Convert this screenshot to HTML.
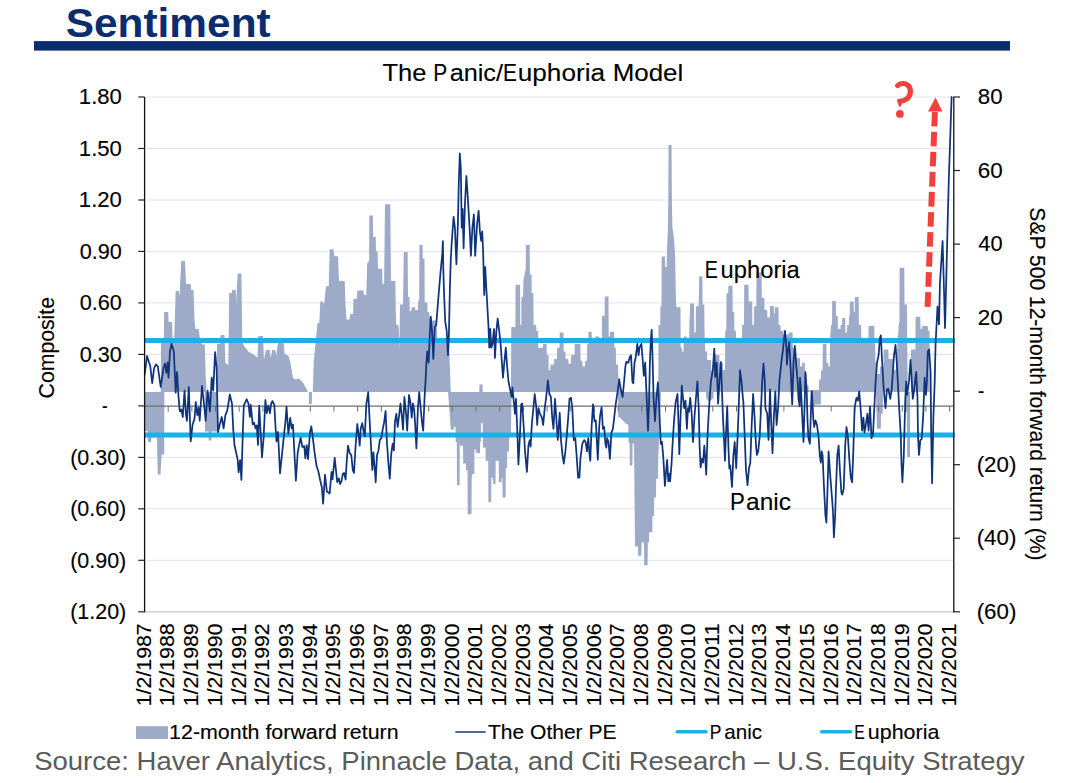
<!DOCTYPE html>
<html><head><meta charset="utf-8"><title>Sentiment</title>
<style>html,body{margin:0;padding:0;background:#fff;}body{width:1068px;height:783px;overflow:hidden;font-family:"Liberation Sans",sans-serif;}svg{display:block;}text{font-family:"Liberation Sans",sans-serif;}.ct text{stroke:#000;stroke-width:0.28px;}</style>
</head><body>
<svg width="1068" height="783" viewBox="0 0 1068 783">
<rect width="1068" height="783" fill="#fff"/>
<text transform="translate(65.73,36.50) scale(1.0469,1)" font-size="40.5" font-weight="bold" fill="#0b2d6f" style="font-family:'Liberation Sans'">Sentiment</text>
<rect x="34" y="41.1" width="976" height="9.5" fill="#0b2d6f"/>
<text transform="translate(382.39,80.90) scale(1.0425,1)" font-size="24.5" fill="#000" stroke="#000" stroke-width="0.14" style="font-family:'Liberation Sans'">The</text>
<text transform="translate(433.13,80.90) scale(0.8545,1)" font-size="24.5" fill="#000" stroke="#000" stroke-width="0.14" style="font-family:'Liberation Sans'">P</text>
<text transform="translate(449.63,80.90) scale(1.0300,1)" font-size="24.5" fill="#000" stroke="#000" stroke-width="0.14" style="font-family:'Liberation Sans'">anic/</text>
<text transform="translate(502.93,80.90) scale(0.8538,1)" font-size="24.5" fill="#000" stroke="#000" stroke-width="0.14" style="font-family:'Liberation Sans'">E</text>
<text transform="translate(517.76,80.90) scale(1.0681,1)" font-size="24.5" fill="#000" stroke="#000" stroke-width="0.14" style="font-family:'Liberation Sans'">uphoria</text>
<text transform="translate(612.63,80.90) scale(1.0584,1)" font-size="24.5" fill="#000" stroke="#000" stroke-width="0.14" style="font-family:'Liberation Sans'">Model</text>
<line x1="146" x2="953.1" y1="97.0" y2="97.0" stroke="#e0e1f0" stroke-width="1"/>
<line x1="146" x2="953.1" y1="148.5" y2="148.5" stroke="#e0e1f0" stroke-width="1"/>
<line x1="146" x2="953.1" y1="200.0" y2="200.0" stroke="#e0e1f0" stroke-width="1"/>
<line x1="146" x2="953.1" y1="251.4" y2="251.4" stroke="#e0e1f0" stroke-width="1"/>
<line x1="146" x2="953.1" y1="302.9" y2="302.9" stroke="#e0e1f0" stroke-width="1"/>
<line x1="146" x2="953.1" y1="354.4" y2="354.4" stroke="#e0e1f0" stroke-width="1"/>
<line x1="146" x2="953.1" y1="457.4" y2="457.4" stroke="#e0e1f0" stroke-width="1"/>
<line x1="146" x2="953.1" y1="508.8" y2="508.8" stroke="#e0e1f0" stroke-width="1"/>
<line x1="146" x2="953.1" y1="560.3" y2="560.3" stroke="#e0e1f0" stroke-width="1"/>
<line x1="146" x2="953.1" y1="611.8" y2="611.8" stroke="#e0e1f0" stroke-width="1"/>
<path d="M160.7,392.0 L160.7,392.0 L161.0,343.0 L163.9,343.0 L164.1,312.0 L168.2,312.0 L168.6,322.0 L172.0,322.0 L172.6,338.0 L174.2,338.0 L175.7,291.0 L178.5,291.0 L179.5,296.0 L181.3,261.0 L185.0,261.0 L186.0,284.0 L190.7,284.0 L191.2,290.0 L193.5,290.0 L194.5,320.0 L195.4,329.0 L198.6,329.0 L200.0,339.0 L202.0,344.5 L204.8,344.5 L205.7,377.0 L206.7,392.0 L216.6,392.0 L217.0,344.0 L219.8,344.0 L220.7,335.0 L224.5,335.0 L225.4,363.0 L228.3,365.0 L229.2,293.0 L232.0,293.0 L232.2,290.0 L235.8,290.0 L236.2,303.0 L237.7,273.6 L241.4,273.6 L242.3,342.7 L245.2,347.4 L248.9,352.0 L252.7,354.0 L257.4,357.7 L258.3,336.0 L263.0,336.0 L264.0,359.6 L265.8,350.0 L269.6,350.0 L270.5,357.7 L272.4,350.0 L275.2,350.0 L276.2,355.8 L278.0,342.7 L280.8,339.0 L283.7,342.7 L284.6,354.0 L288.4,355.8 L290.2,361.5 L292.1,372.7 L293.0,378.0 L296.0,379.4 L298.7,378.5 L303.4,383.0 L305.3,387.0 L308.0,392.0 L312.8,392.0 L313.7,361.5 L315.6,342.7 L317.5,323.0 L319.3,323.0 L320.3,301.4 L323.0,301.4 L324.0,305.0 L326.0,286.3 L328.7,286.3 L329.7,249.3 L333.4,249.3 L334.4,256.3 L338.0,256.3 L339.0,281.0 L344.7,281.0 L345.5,305.0 L346.6,319.5 L349.4,319.5 L350.3,314.0 L353.0,314.0 L353.5,298.8 L357.0,298.8 L357.3,290.4 L363.5,290.4 L364.0,295.0 L366.3,295.0 L367.2,263.0 L369.1,261.5 L369.3,215.4 L372.9,215.4 L373.1,237.0 L375.7,237.0 L376.0,251.0 L377.6,251.0 L378.0,268.8 L382.3,268.8 L382.5,283.8 L384.1,283.8 L385.0,204.2 L390.3,204.2 L390.5,226.7 L391.0,281.0 L395.4,281.0 L395.8,312.0 L396.3,325.0 L398.2,325.0 L398.8,330.0 L399.2,350.0 L399.6,330.0 L400.0,304.5 L403.0,304.5 L403.8,252.0 L407.6,252.0 L408.0,297.0 L409.5,297.0 L409.7,311.0 L411.4,311.0 L411.6,307.3 L415.1,307.3 L415.3,310.0 L417.9,310.0 L418.2,300.7 L419.2,300.0 L419.4,245.0 L422.6,245.0 L422.8,258.6 L424.5,258.6 L424.7,302.6 L427.3,302.6 L427.5,312.0 L429.2,312.0 L429.4,317.6 L432.0,317.6 L432.2,320.4 L436.7,320.4 L437.2,340.0 L437.6,343.0 L445.2,343.0 L449.0,344.0 L449.6,360.0 L450.8,392.0 L479.3,392.0 L479.5,384.5 L482.5,384.5 L482.7,392.0 L511.0,392.0 L511.3,327.0 L515.4,327.0 L515.6,284.7 L520.1,284.7 L520.2,325.0 L521.3,325.0 L521.4,297.0 L523.0,297.0 L523.5,280.0 L525.7,268.8 L525.9,245.0 L529.7,245.0 L529.9,274.4 L531.5,274.4 L531.7,293.0 L533.4,293.0 L533.6,325.0 L536.2,325.0 L536.4,331.0 L538.0,331.0 L538.3,347.7 L540.0,347.7 L542.8,347.7 L543.0,344.0 L546.6,344.0 L546.8,355.0 L548.5,355.0 L548.7,370.2 L550.3,370.2 L550.5,364.6 L554.0,364.6 L554.3,359.0 L557.0,359.0 L557.2,347.7 L559.5,347.7 L559.7,332.6 L563.5,332.6 L563.7,351.4 L565.4,351.4 L565.6,359.0 L568.2,359.0 L568.4,363.6 L571.0,363.6 L571.2,355.0 L574.5,355.0 L574.7,344.0 L580.4,344.0 L580.6,360.8 L582.3,360.8 L582.5,366.4 L585.0,366.4 L585.3,360.8 L587.0,360.8 L587.2,344.0 L588.3,344.0 L588.5,331.7 L591.6,331.7 L591.8,338.3 L595.2,338.3 L595.4,336.4 L599.2,336.4 L599.4,338.3 L601.8,338.3 L602.0,315.7 L604.6,315.7 L604.8,296.6 L608.5,296.6 L608.7,336.4 L609.9,336.4 L610.1,331.7 L614.2,331.7 L614.4,347.7 L615.8,347.7 L616.0,364.6 L618.0,364.6 L618.3,377.7 L619.8,377.7 L620.0,390.0 L622.6,392.0 L658.3,392.0 L658.5,325.0 L660.2,325.0 L660.4,306.3 L661.5,306.3 L661.7,256.6 L664.9,256.6 L665.1,267.0 L666.6,267.0 L666.8,257.0 L667.3,242.7 L667.9,227.7 L668.3,201.0 L668.6,145.0 L671.5,145.0 L671.9,201.4 L672.4,227.7 L673.3,233.0 L674.3,242.7 L675.2,257.7 L675.6,283.8 L676.1,306.3 L677.0,307.3 L680.5,307.3 L680.7,347.7 L681.8,347.7 L682.0,351.4 L683.5,351.4 L683.7,336.4 L686.5,336.4 L686.7,342.0 L689.1,342.0 L689.5,321.4 L690.2,303.5 L694.0,303.5 L694.2,332.6 L695.7,332.6 L695.9,306.3 L698.7,306.3 L699.2,276.3 L702.4,276.3 L702.6,304.5 L704.3,304.5 L704.5,328.9 L705.3,351.4 L707.0,351.4 L707.2,360.0 L711.0,360.0 L711.2,370.2 L713.5,370.2 L713.7,355.0 L719.3,355.0 L719.5,362.7 L722.9,362.7 L723.1,370.0 L725.0,370.0 L725.2,330.8 L726.3,330.8 L726.5,293.2 L728.2,293.2 L728.4,285.7 L732.5,285.7 L732.7,312.0 L734.2,312.0 L734.4,330.8 L736.0,330.8 L736.2,340.0 L741.9,340.0 L741.9,340.0 L742.1,325.0 L744.0,325.0 L744.2,284.7 L748.5,284.7 L748.7,301.6 L752.2,301.6 L752.4,325.0 L754.0,325.0 L754.2,306.3 L756.3,306.3 L756.5,272.5 L761.6,272.5 L761.8,298.0 L764.4,298.0 L764.6,310.0 L767.2,310.0 L767.4,317.6 L769.8,317.6 L770.0,306.0 L773.8,306.0 L774.0,313.8 L774.7,313.8 L774.9,307.3 L778.5,307.3 L778.7,325.0 L780.4,325.0 L780.6,330.8 L783.2,330.8 L783.4,334.5 L788.6,334.5 L788.8,332.6 L792.6,332.6 L792.8,347.7 L796.3,347.7 L796.5,358.0 L800.0,358.0 L800.2,366.4 L802.0,366.4 L802.2,362.7 L804.8,362.7 L805.0,374.0 L806.7,374.0 L806.9,385.2 L808.5,385.2 L808.7,390.0 L818.9,390.0 L819.1,379.6 L820.8,379.6 L821.0,370.2 L822.6,370.2 L822.8,344.0 L826.4,344.0 L826.6,362.7 L828.3,362.7 L828.5,366.4 L829.8,366.4 L830.0,340.0 L831.0,325.0 L832.0,325.0 L832.2,301.0 L835.8,301.0 L836.0,315.7 L837.7,315.7 L837.9,328.9 L840.5,328.9 L840.7,325.0 L842.1,325.0 L842.3,318.0 L845.2,318.0 L845.4,332.6 L847.0,332.6 L847.2,325.0 L848.9,325.0 L849.1,315.7 L849.7,315.7 L849.9,301.6 L853.6,301.6 L853.8,312.0 L854.7,312.0 L854.9,297.0 L858.7,297.0 L858.9,325.0 L861.1,325.0 L861.3,338.3 L868.4,338.3 L868.6,326.0 L874.3,326.0 L874.5,344.0 L875.2,344.0 L875.4,362.7 L877.0,362.7 L877.2,374.0 L879.9,374.0 L880.1,366.4 L883.5,366.4 L883.7,349.5 L888.4,349.5 L888.6,359.0 L893.0,359.0 L893.2,370.0 L895.9,370.0 L896.1,362.7 L897.5,344.0 L898.7,325.0 L899.4,321.4 L899.6,267.8 L904.3,267.8 L904.5,304.5 L907.0,304.5 L907.2,334.5 L907.8,392.0 L910.8,392.0 L911.0,349.5 L915.4,349.5 L915.6,316.7 L920.3,316.7 L920.5,328.9 L922.0,328.9 L922.2,326.0 L927.8,326.0 L928.0,330.8 L929.5,330.8 L929.7,392.0 L929.7,392.0 Z" fill="#9dabc9"/>
<path d="M144.7,392.0 L144.7,392.0 L144.7,431.0 L147.5,431.0 L148.0,442.0 L151.0,442.0 L151.5,437.5 L157.0,437.5 L157.3,455.0 L157.8,474.5 L160.5,474.5 L161.6,454.5 L164.2,454.5 L164.4,392.0 L204.8,392.0 L205.0,431.5 L208.5,431.5 L208.7,440.5 L211.4,440.5 L211.6,431.5 L217.8,431.5 L218.0,392.0 L308.8,392.0 L309.0,404.0 L311.8,404.0 L312.0,392.0 L448.0,392.0 L448.6,399.0 L449.9,417.6 L450.8,429.8 L453.6,429.8 L453.8,427.0 L455.5,427.0 L455.7,442.0 L456.8,442.0 L457.0,485.2 L459.6,485.2 L459.8,442.0 L460.2,445.7 L463.0,445.7 L463.2,463.6 L465.8,463.6 L466.0,470.0 L467.5,470.0 L467.7,514.3 L471.5,514.3 L471.7,477.7 L472.4,474.0 L474.3,474.0 L474.5,449.5 L476.0,449.5 L476.2,453.0 L480.0,453.0 L480.2,442.0 L480.8,442.0 L481.0,423.0 L482.7,423.0 L482.9,447.6 L485.5,447.6 L485.7,460.8 L488.2,460.8 L488.4,502.0 L491.2,502.0 L491.4,477.7 L493.0,477.7 L493.2,484.0 L495.5,484.0 L495.7,460.8 L498.7,460.8 L498.9,482.3 L501.5,482.3 L501.7,477.7 L502.4,477.7 L502.6,497.4 L505.6,497.4 L505.8,468.3 L507.1,468.3 L507.3,451.4 L509.0,451.4 L509.2,436.3 L510.9,436.3 L511.5,392.0 L618.0,392.0 L618.2,417.6 L620.0,417.6 L625.4,423.2 L628.3,425.0 L628.5,442.0 L629.6,443.8 L629.8,465.4 L632.4,465.4 L632.6,443.8 L634.0,443.8 L634.5,497.6 L635.0,546.4 L638.0,546.4 L638.2,555.8 L641.4,555.8 L641.6,542.6 L644.0,542.6 L644.2,565.2 L647.6,565.2 L647.8,542.6 L649.0,542.6 L649.2,532.3 L652.3,532.3 L652.5,516.0 L654.0,516.0 L654.2,497.6 L656.0,497.6 L656.2,478.8 L658.0,478.8 L658.3,455.0 L659.3,436.3 L660.2,417.6 L661.0,392.0 L706.0,392.0 L706.2,398.0 L709.0,402.0 L713.4,398.0 L713.6,392.0 L810.4,392.0 L810.6,406.0 L814.2,406.0 L815.0,404.4 L820.8,404.4 L821.0,392.0 L876.0,392.0 L876.2,400.0 L877.0,428.8 L880.8,428.8 L881.0,413.8 L882.7,413.8 L882.9,392.0 L905.0,392.0 L905.2,412.0 L907.0,412.0 L907.2,457.0 L910.0,457.0 L910.2,392.0 L910.2,392.0 Z" fill="#9dabc9"/>
<line x1="144.6" x2="953.1" y1="406.1" y2="406.1" stroke="#6e6e6e" stroke-width="1.3"/>
<line x1="168.2" x2="168.2" y1="406.1" y2="411.6" stroke="#6e6e6e" stroke-width="1"/>
<line x1="191.9" x2="191.9" y1="406.1" y2="411.6" stroke="#6e6e6e" stroke-width="1"/>
<line x1="215.5" x2="215.5" y1="406.1" y2="411.6" stroke="#6e6e6e" stroke-width="1"/>
<line x1="239.2" x2="239.2" y1="406.1" y2="411.6" stroke="#6e6e6e" stroke-width="1"/>
<line x1="262.9" x2="262.9" y1="406.1" y2="411.6" stroke="#6e6e6e" stroke-width="1"/>
<line x1="286.6" x2="286.6" y1="406.1" y2="411.6" stroke="#6e6e6e" stroke-width="1"/>
<line x1="310.3" x2="310.3" y1="406.1" y2="411.6" stroke="#6e6e6e" stroke-width="1"/>
<line x1="333.9" x2="333.9" y1="406.1" y2="411.6" stroke="#6e6e6e" stroke-width="1"/>
<line x1="357.6" x2="357.6" y1="406.1" y2="411.6" stroke="#6e6e6e" stroke-width="1"/>
<line x1="381.3" x2="381.3" y1="406.1" y2="411.6" stroke="#6e6e6e" stroke-width="1"/>
<line x1="405.0" x2="405.0" y1="406.1" y2="411.6" stroke="#6e6e6e" stroke-width="1"/>
<line x1="428.7" x2="428.7" y1="406.1" y2="411.6" stroke="#6e6e6e" stroke-width="1"/>
<line x1="452.3" x2="452.3" y1="406.1" y2="411.6" stroke="#6e6e6e" stroke-width="1"/>
<line x1="476.0" x2="476.0" y1="406.1" y2="411.6" stroke="#6e6e6e" stroke-width="1"/>
<line x1="499.7" x2="499.7" y1="406.1" y2="411.6" stroke="#6e6e6e" stroke-width="1"/>
<line x1="523.4" x2="523.4" y1="406.1" y2="411.6" stroke="#6e6e6e" stroke-width="1"/>
<line x1="547.1" x2="547.1" y1="406.1" y2="411.6" stroke="#6e6e6e" stroke-width="1"/>
<line x1="570.7" x2="570.7" y1="406.1" y2="411.6" stroke="#6e6e6e" stroke-width="1"/>
<line x1="594.4" x2="594.4" y1="406.1" y2="411.6" stroke="#6e6e6e" stroke-width="1"/>
<line x1="618.1" x2="618.1" y1="406.1" y2="411.6" stroke="#6e6e6e" stroke-width="1"/>
<line x1="641.8" x2="641.8" y1="406.1" y2="411.6" stroke="#6e6e6e" stroke-width="1"/>
<line x1="665.5" x2="665.5" y1="406.1" y2="411.6" stroke="#6e6e6e" stroke-width="1"/>
<line x1="689.1" x2="689.1" y1="406.1" y2="411.6" stroke="#6e6e6e" stroke-width="1"/>
<line x1="712.8" x2="712.8" y1="406.1" y2="411.6" stroke="#6e6e6e" stroke-width="1"/>
<line x1="736.5" x2="736.5" y1="406.1" y2="411.6" stroke="#6e6e6e" stroke-width="1"/>
<line x1="760.2" x2="760.2" y1="406.1" y2="411.6" stroke="#6e6e6e" stroke-width="1"/>
<line x1="783.9" x2="783.9" y1="406.1" y2="411.6" stroke="#6e6e6e" stroke-width="1"/>
<line x1="807.5" x2="807.5" y1="406.1" y2="411.6" stroke="#6e6e6e" stroke-width="1"/>
<line x1="831.2" x2="831.2" y1="406.1" y2="411.6" stroke="#6e6e6e" stroke-width="1"/>
<line x1="854.9" x2="854.9" y1="406.1" y2="411.6" stroke="#6e6e6e" stroke-width="1"/>
<line x1="878.6" x2="878.6" y1="406.1" y2="411.6" stroke="#6e6e6e" stroke-width="1"/>
<line x1="902.3" x2="902.3" y1="406.1" y2="411.6" stroke="#6e6e6e" stroke-width="1"/>
<line x1="925.9" x2="925.9" y1="406.1" y2="411.6" stroke="#6e6e6e" stroke-width="1"/>
<line x1="949.6" x2="949.6" y1="406.1" y2="411.6" stroke="#6e6e6e" stroke-width="1"/>
<line x1="144.6" x2="953.1" y1="611.9" y2="611.9" stroke="#d2d2d2" stroke-width="1.1"/>
<line x1="144.6" x2="954.8" y1="340.6" y2="340.6" stroke="#1bb1e7" stroke-width="5"/>
<line x1="144.6" x2="954.8" y1="434.9" y2="434.9" stroke="#1bb1e7" stroke-width="5"/>
<polyline points="144.7,374.7 147.0,356.0 148.5,360.7 150.3,366.3 152.2,383.2 154.1,368.2 156.0,364.4 157.8,366.3 160.7,387.0 163.5,368.2 165.0,363.5 166.3,372.9 167.6,362.5 168.5,377.6 170.0,351.3 171.5,343.8 172.9,348.5 173.8,351.3 175.7,392.6 177.0,372.0 178.5,396.3 179.8,411.4 181.3,409.5 182.8,417.0 184.5,390.7 186.0,415.1 187.0,420.8 188.8,387.0 190.7,441.4 192.6,424.5 194.5,418.9 195.8,402.0 197.3,415.1 198.6,407.6 199.7,420.8 202.0,386.0 203.8,402.0 205.7,420.8 207.6,390.7 209.9,411.4 211.7,377.6 213.2,390.7 215.1,352.2 216.6,368.2 218.0,432.0 219.8,424.5 221.7,417.0 223.6,428.3 225.4,415.1 227.3,410.4 229.8,394.5 232.0,403.8 233.3,430.1 234.5,445.2 236.2,452.7 237.7,460.2 238.6,472.4 240.1,460.2 241.4,480.0 242.9,430.1 243.8,405.7 246.7,399.2 248.5,403.8 249.9,417.0 250.8,404.8 252.7,424.5 254.0,422.6 255.5,428.3 256.8,425.4 258.0,445.0 259.2,405.7 260.6,432.0 262.0,457.4 263.6,437.7 265.4,400.0 266.8,413.2 268.3,405.7 270.0,413.2 271.1,403.8 272.4,401.0 274.3,404.8 275.6,428.3 276.5,441.4 278.0,432.0 280.0,473.3 281.8,456.4 283.7,437.7 285.5,420.8 286.5,406.7 288.4,433.9 290.2,417.9 291.7,428.3 293.0,424.5 294.4,452.7 295.9,480.8 297.7,452.7 300.6,437.7 302.4,447.0 304.3,446.1 305.3,458.3 306.8,445.2 308.0,459.2 310.0,432.0 311.3,426.4 312.8,437.7 314.6,452.7 316.5,465.8 318.4,471.5 320.3,480.8 321.8,487.0 323.1,503.8 325.0,474.7 326.9,491.6 329.7,493.4 331.5,471.8 332.5,479.3 334.7,457.8 337.2,482.2 339.0,478.4 340.0,484.2 341.5,481.4 342.8,473.9 344.1,473.0 345.6,479.5 346.9,458.9 348.0,445.7 349.8,453.2 351.3,455.1 352.8,470.1 354.0,473.0 355.6,445.7 357.3,424.0 358.8,436.3 359.7,445.7 360.7,428.8 362.2,423.2 363.5,430.7 364.8,436.3 366.3,404.4 368.2,392.2 369.5,417.6 371.0,445.7 372.3,470.0 373.4,452.3 374.7,468.3 375.7,482.3 377.0,455.1 378.5,450.4 379.8,440.1 381.3,438.2 382.8,428.8 384.1,422.3 385.6,411.0 386.9,442.0 388.5,464.5 389.8,478.6 391.1,455.1 392.6,443.8 393.9,450.4 395.0,421.3 396.3,413.8 397.7,427.0 399.2,414.7 400.5,403.5 402.0,417.6 403.0,429.8 404.4,397.0 406.1,413.8 407.2,430.7 409.0,395.0 410.4,402.5 411.7,417.6 412.9,403.5 414.2,410.0 415.1,423.2 416.4,448.5 417.9,408.2 419.2,392.2 420.8,410.0 422.1,423.2 423.2,430.7 424.5,398.8 425.4,383.8 426.4,362.7 427.3,351.4 428.6,362.7 429.8,334.5 430.7,316.7 432.0,330.8 433.3,359.0 434.8,327.0 436.2,325.0 437.7,306.3 438.6,295.0 440.5,272.5 442.3,253.8 442.9,241.2 443.3,268.8 444.2,297.0 445.2,321.4 446.7,330.8 448.0,355.2 448.9,334.5 449.9,287.6 450.8,259.4 451.7,242.7 453.6,216.8 454.9,227.7 456.4,264.3 457.9,223.9 458.7,186.3 459.8,153.5 460.8,167.6 461.7,227.7 462.6,208.9 463.6,248.3 464.9,205.1 466.4,176.0 467.7,195.7 468.6,210.8 470.0,235.2 470.9,255.8 472.4,227.7 473.9,214.5 475.2,255.8 477.1,223.9 478.6,210.8 479.9,231.4 481.2,240.8 482.2,231.4 483.1,250.2 484.2,295.0 485.2,267.0 486.5,291.3 488.4,325.0 489.3,347.7 490.2,328.9 491.2,347.7 492.5,343.9 494.0,329.0 495.0,358.0 496.2,332.6 497.7,318.5 499.2,330.8 500.6,343.9 501.9,362.7 503.0,377.7 504.3,362.7 505.8,347.7 507.1,366.4 508.5,381.5 510.0,389.0 511.8,397.0 512.4,387.5 513.7,400.7 515.0,413.8 516.0,398.8 517.5,436.3 518.4,464.5 519.9,436.3 521.2,404.4 522.2,403.5 523.7,427.0 525.0,451.4 526.9,472.0 528.4,445.7 529.7,440.1 530.6,446.7 531.9,423.2 533.4,408.2 534.7,394.0 536.2,406.3 537.2,425.0 538.5,408.2 540.0,413.8 541.9,417.6 543.2,425.0 544.7,408.2 546.0,398.8 547.9,380.5 549.4,394.0 550.9,397.0 552.2,417.6 553.5,428.8 555.0,398.8 556.5,421.3 557.8,440.0 559.7,412.9 561.0,440.1 562.5,455.1 563.8,463.6 565.4,451.4 566.7,436.3 568.2,417.6 569.5,398.8 571.0,397.8 572.3,408.2 573.8,440.1 575.3,438.2 576.6,455.1 578.1,477.7 579.4,477.7 580.4,458.9 582.3,443.8 584.1,440.1 585.6,442.0 586.9,451.4 588.3,438.2 589.4,453.2 590.3,460.8 591.6,427.0 593.0,404.4 594.5,421.3 595.8,420.4 596.9,442.0 597.8,459.8 599.2,427.0 600.1,415.7 601.6,407.2 602.9,428.8 604.2,427.0 605.4,443.8 606.3,447.6 607.2,438.2 608.5,442.0 609.9,458.9 611.4,432.6 612.9,428.8 614.2,417.6 615.7,404.4 617.4,393.1 619.2,379.6 621.1,390.8 622.6,397.0 624.1,381.5 625.4,366.4 626.4,361.7 628.3,362.7 629.8,357.0 631.0,355.2 632.4,381.5 633.3,383.3 634.5,362.7 635.8,357.0 637.3,343.9 638.6,355.2 639.5,347.7 641.4,343.9 642.9,362.7 643.8,375.8 645.2,362.7 646.7,398.8 648.0,430.7 648.9,408.2 649.9,362.7 650.8,340.1 651.7,329.8 652.7,362.7 653.6,398.8 655.0,421.3 656.4,398.8 657.9,382.4 659.2,408.2 660.2,430.7 660.8,443.8 662.0,442.0 663.4,458.9 664.9,486.0 666.2,470.1 667.1,459.8 668.3,481.4 669.2,473.9 670.1,481.4 671.5,464.5 673.0,436.3 674.3,417.6 675.6,402.5 677.5,394.0 678.6,427.0 679.3,454.2 680.5,417.6 681.8,385.6 683.1,398.8 684.2,408.2 685.5,400.7 686.9,428.8 688.0,408.2 688.9,411.9 690.2,397.8 691.7,413.8 693.0,442.0 694.4,417.6 695.9,398.8 697.4,381.5 698.7,408.2 699.6,445.7 700.6,467.3 701.9,458.9 703.0,462.6 704.3,445.7 705.3,458.9 706.2,474.8 707.5,436.3 709.0,408.2 710.9,381.5 712.8,370.2 714.3,348.6 715.2,377.0 716.7,362.5 718.1,403.7 719.5,380.0 720.9,362.0 722.8,413.0 725.0,460.8 725.9,436.3 727.2,406.3 728.4,445.7 729.3,468.3 730.2,465.4 732.0,487.0 733.4,455.1 734.7,442.0 736.2,468.3 737.6,436.3 738.7,408.2 740.0,370.2 741.5,381.5 742.8,397.0 743.4,402.5 744.7,436.3 746.0,470.1 747.5,485.2 749.0,468.3 750.3,462.6 751.6,427.0 753.1,394.0 754.6,417.6 756.0,445.7 756.9,455.0 758.2,451.4 759.7,436.3 761.0,408.2 762.2,381.5 763.5,363.6 764.8,381.5 765.4,408.2 767.2,413.8 768.5,440.0 770.0,389.4 771.4,427.0 772.5,453.2 773.8,417.6 775.3,391.3 776.6,425.0 778.1,408.2 779.4,381.5 781.3,362.7 782.8,351.4 784.1,338.3 785.0,330.8 786.4,347.7 786.9,364.6 787.9,351.4 789.2,342.0 790.7,370.2 792.2,404.4 793.5,362.7 794.8,345.8 796.3,366.4 797.7,381.5 798.5,398.8 799.7,406.3 800.0,377.7 801.0,389.4 802.3,417.6 803.5,442.0 804.8,398.8 805.4,372.0 806.7,391.3 807.6,423.2 808.5,438.2 809.9,443.8 811.0,408.2 811.9,391.3 813.2,417.6 814.2,427.0 815.5,420.4 817.0,425.0 818.5,436.3 819.8,455.1 820.8,462.6 821.7,451.4 822.6,455.1 823.9,485.2 825.4,515.2 826.4,522.7 827.3,496.4 828.6,451.4 830.1,473.9 831.6,492.7 833.0,511.5 833.9,537.3 835.2,515.0 835.8,492.7 837.3,455.1 838.6,445.7 839.9,470.1 841.4,492.7 842.3,494.6 843.7,488.9 845.2,445.7 846.5,427.0 848.0,438.2 849.3,458.9 850.8,477.7 852.1,482.3 853.2,455.1 854.6,408.2 856.4,397.8 857.9,400.7 859.2,391.3 860.6,408.2 862.1,430.7 863.4,417.6 864.5,432.6 865.8,425.0 867.3,413.8 868.6,430.7 870.0,406.3 871.5,438.2 873.0,434.5 874.3,408.2 875.6,381.5 877.0,362.7 878.6,355.2 879.9,338.3 880.8,335.4 882.2,362.7 883.7,389.0 885.5,408.2 886.9,389.4 888.4,389.0 890.2,398.8 891.7,389.4 893.0,370.2 894.0,355.2 895.5,344.8 896.8,362.7 897.8,381.5 899.2,408.2 900.8,436.3 901.5,464.5 902.4,482.3 903.8,455.1 905.3,398.8 906.2,381.5 907.1,395.0 909.0,381.5 910.5,359.9 911.8,381.5 912.8,398.8 914.3,389.0 915.0,381.5 916.2,372.0 917.5,398.8 918.0,436.3 919.0,455.0 920.3,440.1 921.6,439.2 923.1,417.6 924.6,377.7 925.9,395.0 926.9,381.5 927.8,351.4 929.1,349.5 930.6,372.0 931.2,436.3 932.1,483.3 933.4,417.6 934.7,381.5 935.6,343.0 936.5,326.0 937.5,306.6 939.0,324.4 940.0,282.0 942.6,241.0 944.0,290.0 945.0,328.0 946.0,290.0 947.8,217.0 948.8,180.0 951.6,97.0" fill="none" stroke="#10347c" stroke-width="1.75" stroke-linejoin="round" stroke-linecap="round"/>
<line x1="144.6" x2="144.6" y1="97.0" y2="612.3" stroke="#111" stroke-width="1.3"/>
<line x1="953.8" x2="953.8" y1="97.0" y2="612.3" stroke="#111" stroke-width="1.3"/>
<line x1="138.3" x2="144.6" y1="97.0" y2="97.0" stroke="#222" stroke-width="1.2"/>
<text transform="translate(78.84,104.20) scale(1.0328,1)" font-size="21.4" fill="#000" stroke="#000" stroke-width="0.14" style="font-family:'Liberation Sans'">1.80</text>
<line x1="138.3" x2="144.6" y1="148.5" y2="148.5" stroke="#222" stroke-width="1.2"/>
<text transform="translate(78.84,155.68) scale(1.0328,1)" font-size="21.4" fill="#000" stroke="#000" stroke-width="0.14" style="font-family:'Liberation Sans'">1.50</text>
<line x1="138.3" x2="144.6" y1="200.0" y2="200.0" stroke="#222" stroke-width="1.2"/>
<text transform="translate(78.84,207.16) scale(1.0328,1)" font-size="21.4" fill="#000" stroke="#000" stroke-width="0.14" style="font-family:'Liberation Sans'">1.20</text>
<line x1="138.3" x2="144.6" y1="251.4" y2="251.4" stroke="#222" stroke-width="1.2"/>
<text transform="translate(79.69,258.64) scale(1.0120,1)" font-size="21.4" fill="#000" stroke="#000" stroke-width="0.14" style="font-family:'Liberation Sans'">0.90</text>
<line x1="138.3" x2="144.6" y1="302.9" y2="302.9" stroke="#222" stroke-width="1.2"/>
<text transform="translate(79.69,310.12) scale(1.0120,1)" font-size="21.4" fill="#000" stroke="#000" stroke-width="0.14" style="font-family:'Liberation Sans'">0.60</text>
<line x1="138.3" x2="144.6" y1="354.4" y2="354.4" stroke="#222" stroke-width="1.2"/>
<text transform="translate(79.69,361.60) scale(1.0120,1)" font-size="21.4" fill="#000" stroke="#000" stroke-width="0.14" style="font-family:'Liberation Sans'">0.30</text>
<line x1="138.3" x2="144.6" y1="405.9" y2="405.9" stroke="#222" stroke-width="1.2"/>
<text transform="translate(101.88,413.08) scale(0.7930,1)" font-size="21.4" fill="#000" stroke="#000" stroke-width="0.14" style="font-family:'Liberation Sans'">-</text>
<line x1="138.3" x2="144.6" y1="457.4" y2="457.4" stroke="#222" stroke-width="1.2"/>
<text transform="translate(70.21,464.56) scale(1.0030,1)" font-size="21.4" fill="#000" stroke="#000" stroke-width="0.14" style="font-family:'Liberation Sans'">(0.30)</text>
<line x1="138.3" x2="144.6" y1="508.8" y2="508.8" stroke="#222" stroke-width="1.2"/>
<text transform="translate(70.21,516.04) scale(1.0030,1)" font-size="21.4" fill="#000" stroke="#000" stroke-width="0.14" style="font-family:'Liberation Sans'">(0.60)</text>
<line x1="138.3" x2="144.6" y1="560.3" y2="560.3" stroke="#222" stroke-width="1.2"/>
<text transform="translate(70.21,567.52) scale(1.0030,1)" font-size="21.4" fill="#000" stroke="#000" stroke-width="0.14" style="font-family:'Liberation Sans'">(0.90)</text>
<line x1="138.3" x2="144.6" y1="611.8" y2="611.8" stroke="#222" stroke-width="1.2"/>
<text transform="translate(70.21,619.00) scale(1.0030,1)" font-size="21.4" fill="#000" stroke="#000" stroke-width="0.14" style="font-family:'Liberation Sans'">(1.20)</text>
<line x1="953.1" x2="960" y1="97.0" y2="97.0" stroke="#222" stroke-width="1.2"/>
<text transform="translate(977.86,104.20) scale(1.0389,1)" font-size="21.4" fill="#000" stroke="#000" stroke-width="0.14" style="font-family:'Liberation Sans'">80</text>
<line x1="953.1" x2="960" y1="170.5" y2="170.5" stroke="#222" stroke-width="1.2"/>
<text transform="translate(977.68,177.74) scale(1.0465,1)" font-size="21.4" fill="#000" stroke="#000" stroke-width="0.14" style="font-family:'Liberation Sans'">60</text>
<line x1="953.1" x2="960" y1="244.1" y2="244.1" stroke="#222" stroke-width="1.2"/>
<text transform="translate(978.31,251.28) scale(1.0191,1)" font-size="21.4" fill="#000" stroke="#000" stroke-width="0.14" style="font-family:'Liberation Sans'">40</text>
<line x1="953.1" x2="960" y1="317.6" y2="317.6" stroke="#222" stroke-width="1.2"/>
<text transform="translate(977.68,324.82) scale(1.0465,1)" font-size="21.4" fill="#000" stroke="#000" stroke-width="0.14" style="font-family:'Liberation Sans'">20</text>
<line x1="953.1" x2="960" y1="391.2" y2="391.2" stroke="#222" stroke-width="1.2"/>
<text transform="translate(977.99,398.36) scale(0.8874,1)" font-size="21.4" fill="#000" stroke="#000" stroke-width="0.14" style="font-family:'Liberation Sans'">-</text>
<line x1="953.1" x2="960" y1="464.7" y2="464.7" stroke="#222" stroke-width="1.2"/>
<text transform="translate(976.66,471.90) scale(1.0431,1)" font-size="21.4" fill="#000" stroke="#000" stroke-width="0.14" style="font-family:'Liberation Sans'">(20)</text>
<line x1="953.1" x2="960" y1="538.2" y2="538.2" stroke="#222" stroke-width="1.2"/>
<text transform="translate(976.66,545.44) scale(1.0431,1)" font-size="21.4" fill="#000" stroke="#000" stroke-width="0.14" style="font-family:'Liberation Sans'">(40)</text>
<line x1="953.1" x2="960" y1="611.8" y2="611.8" stroke="#222" stroke-width="1.2"/>
<text transform="translate(976.66,618.98) scale(1.0431,1)" font-size="21.4" fill="#000" stroke="#000" stroke-width="0.14" style="font-family:'Liberation Sans'">(60)</text>
<text transform="translate(54.30,398.46) rotate(-90) scale(0.9929,1)" font-size="21.4" fill="#000" stroke="#000" stroke-width="0.14">Composite</text>
<text transform="translate(1030.40,207.35) rotate(90) scale(0.9849,1)" font-size="21.4" fill="#000" stroke="#000" stroke-width="0.14">S&amp;P 500 12-month forward return (%)</text>
<text transform="translate(150.80,706.30) rotate(-90) scale(1.0168,1)" font-size="21" fill="#000" stroke="#000" stroke-width="0.14">1/2/1987</text>
<text transform="translate(174.48,706.30) rotate(-90) scale(1.0148,1)" font-size="21" fill="#000" stroke="#000" stroke-width="0.14">1/2/1988</text>
<text transform="translate(198.16,706.30) rotate(-90) scale(1.0161,1)" font-size="21" fill="#000" stroke="#000" stroke-width="0.14">1/2/1989</text>
<text transform="translate(221.84,706.30) rotate(-90) scale(1.0141,1)" font-size="21" fill="#000" stroke="#000" stroke-width="0.14">1/2/1990</text>
<text transform="translate(245.52,706.30) rotate(-90) scale(1.0168,1)" font-size="21" fill="#000" stroke="#000" stroke-width="0.14">1/2/1991</text>
<text transform="translate(269.20,706.30) rotate(-90) scale(1.0168,1)" font-size="21" fill="#000" stroke="#000" stroke-width="0.14">1/2/1992</text>
<text transform="translate(292.88,706.30) rotate(-90) scale(1.0155,1)" font-size="21" fill="#000" stroke="#000" stroke-width="0.14">1/2/1993</text>
<text transform="translate(316.56,706.29) rotate(-90) scale(1.0114,1)" font-size="21" fill="#000" stroke="#000" stroke-width="0.14">1/2/1994</text>
<text transform="translate(340.24,706.30) rotate(-90) scale(1.0148,1)" font-size="21" fill="#000" stroke="#000" stroke-width="0.14">1/2/1995</text>
<text transform="translate(363.92,706.30) rotate(-90) scale(1.0155,1)" font-size="21" fill="#000" stroke="#000" stroke-width="0.14">1/2/1996</text>
<text transform="translate(387.60,706.30) rotate(-90) scale(1.0168,1)" font-size="21" fill="#000" stroke="#000" stroke-width="0.14">1/2/1997</text>
<text transform="translate(411.28,706.30) rotate(-90) scale(1.0148,1)" font-size="21" fill="#000" stroke="#000" stroke-width="0.14">1/2/1998</text>
<text transform="translate(434.96,706.30) rotate(-90) scale(1.0161,1)" font-size="21" fill="#000" stroke="#000" stroke-width="0.14">1/2/1999</text>
<text transform="translate(458.64,706.30) rotate(-90) scale(1.0141,1)" font-size="21" fill="#000" stroke="#000" stroke-width="0.14">1/2/2000</text>
<text transform="translate(482.32,706.30) rotate(-90) scale(1.0168,1)" font-size="21" fill="#000" stroke="#000" stroke-width="0.14">1/2/2001</text>
<text transform="translate(506.00,706.30) rotate(-90) scale(1.0168,1)" font-size="21" fill="#000" stroke="#000" stroke-width="0.14">1/2/2002</text>
<text transform="translate(529.68,706.30) rotate(-90) scale(1.0155,1)" font-size="21" fill="#000" stroke="#000" stroke-width="0.14">1/2/2003</text>
<text transform="translate(553.36,706.29) rotate(-90) scale(1.0114,1)" font-size="21" fill="#000" stroke="#000" stroke-width="0.14">1/2/2004</text>
<text transform="translate(577.04,706.30) rotate(-90) scale(1.0148,1)" font-size="21" fill="#000" stroke="#000" stroke-width="0.14">1/2/2005</text>
<text transform="translate(600.72,706.30) rotate(-90) scale(1.0155,1)" font-size="21" fill="#000" stroke="#000" stroke-width="0.14">1/2/2006</text>
<text transform="translate(624.40,706.30) rotate(-90) scale(1.0168,1)" font-size="21" fill="#000" stroke="#000" stroke-width="0.14">1/2/2007</text>
<text transform="translate(648.08,706.30) rotate(-90) scale(1.0148,1)" font-size="21" fill="#000" stroke="#000" stroke-width="0.14">1/2/2008</text>
<text transform="translate(671.76,706.30) rotate(-90) scale(1.0161,1)" font-size="21" fill="#000" stroke="#000" stroke-width="0.14">1/2/2009</text>
<text transform="translate(695.44,706.30) rotate(-90) scale(1.0141,1)" font-size="21" fill="#000" stroke="#000" stroke-width="0.14">1/2/2010</text>
<text transform="translate(719.12,706.33) rotate(-90) scale(1.0374,1)" font-size="21" fill="#000" stroke="#000" stroke-width="0.14">1/2/2011</text>
<text transform="translate(742.80,706.30) rotate(-90) scale(1.0168,1)" font-size="21" fill="#000" stroke="#000" stroke-width="0.14">1/2/2012</text>
<text transform="translate(766.48,706.30) rotate(-90) scale(1.0155,1)" font-size="21" fill="#000" stroke="#000" stroke-width="0.14">1/2/2013</text>
<text transform="translate(790.16,706.29) rotate(-90) scale(1.0114,1)" font-size="21" fill="#000" stroke="#000" stroke-width="0.14">1/2/2014</text>
<text transform="translate(813.84,706.30) rotate(-90) scale(1.0148,1)" font-size="21" fill="#000" stroke="#000" stroke-width="0.14">1/2/2015</text>
<text transform="translate(837.52,706.30) rotate(-90) scale(1.0155,1)" font-size="21" fill="#000" stroke="#000" stroke-width="0.14">1/2/2016</text>
<text transform="translate(861.20,706.30) rotate(-90) scale(1.0168,1)" font-size="21" fill="#000" stroke="#000" stroke-width="0.14">1/2/2017</text>
<text transform="translate(884.88,706.30) rotate(-90) scale(1.0148,1)" font-size="21" fill="#000" stroke="#000" stroke-width="0.14">1/2/2018</text>
<text transform="translate(908.56,706.30) rotate(-90) scale(1.0161,1)" font-size="21" fill="#000" stroke="#000" stroke-width="0.14">1/2/2019</text>
<text transform="translate(932.24,706.30) rotate(-90) scale(1.0141,1)" font-size="21" fill="#000" stroke="#000" stroke-width="0.14">1/2/2020</text>
<text transform="translate(955.92,706.30) rotate(-90) scale(1.0168,1)" font-size="21" fill="#000" stroke="#000" stroke-width="0.14">1/2/2021</text>
<text transform="translate(704.63,277.80) scale(0.8180,1)" font-size="24" fill="#000" stroke="#000" stroke-width="0.14" style="font-family:'Liberation Sans'">E</text>
<text transform="translate(720.62,277.80) scale(0.9885,1)" font-size="24" fill="#000" stroke="#000" stroke-width="0.14" style="font-family:'Liberation Sans'">uphoria</text>
<text transform="translate(729.92,510.30) scale(0.9268,1)" font-size="24" fill="#000" stroke="#000" stroke-width="0.14" style="font-family:'Liberation Sans'">P</text>
<text transform="translate(746.06,510.30) scale(1.0184,1)" font-size="24" fill="#000" stroke="#000" stroke-width="0.14" style="font-family:'Liberation Sans'">anic</text>
<line x1="927.6" y1="306.8" x2="934.9" y2="111" stroke="#f2413d" stroke-width="6" stroke-dasharray="14.6 5.46"/>
<polygon points="935.5,97.6 928,111.6 942.4,111.6" fill="#f2413d"/>
<path d="M897.7,85.6 C899.8,83.2 905.2,82.5 908.2,85.5 C911.6,89 911,95.6 906.9,98.8 C904.6,100.6 902.2,101.2 899.9,101.3" fill="none" stroke="#f2413d" stroke-width="5.2" stroke-linecap="round"/>
<polygon points="897.2,99.2 902.6,99.6 901,106.6 898.7,106.6" fill="#f2413d"/>
<circle cx="899.9" cy="113.9" r="3.9" fill="#f2413d"/>
<rect x="136" y="726.2" width="32" height="12.8" fill="#9dabc9"/>
<text transform="translate(169.09,738.80) scale(1.0294,1)" font-size="20.8" fill="#000" stroke="#000" stroke-width="0.14" style="font-family:'Liberation Sans'">12-month forward return</text>
<line x1="455.4" x2="485.6" y1="732" y2="732" stroke="#10347c" stroke-width="1.5"/>
<text transform="translate(487.98,738.80) scale(1.0112,1)" font-size="20.8" fill="#000" stroke="#000" stroke-width="0.14" style="font-family:'Liberation Sans'">The Other PE</text>
<line x1="677.2" x2="706" y1="731.8" y2="731.8" stroke="#1bb1e7" stroke-width="3.4" stroke-linecap="round"/>
<text transform="translate(709.81,738.80) scale(0.8357,1)" font-size="20.8" fill="#000" stroke="#000" stroke-width="0.14" style="font-family:'Liberation Sans'">P</text>
<text transform="translate(724.32,738.80) scale(0.9928,1)" font-size="20.8" fill="#000" stroke="#000" stroke-width="0.14" style="font-family:'Liberation Sans'">anic</text>
<line x1="821.6" x2="850.6" y1="731.8" y2="731.8" stroke="#1bb1e7" stroke-width="3.4" stroke-linecap="round"/>
<text transform="translate(854.34,738.80) scale(0.7586,1)" font-size="20.8" fill="#000" stroke="#000" stroke-width="0.14" style="font-family:'Liberation Sans'">E</text>
<text transform="translate(867.86,738.80) scale(1.0305,1)" font-size="20.8" fill="#000" stroke="#000" stroke-width="0.14" style="font-family:'Liberation Sans'">uphoria</text>
<text transform="translate(34.16,770.20) scale(1.0584,1)" font-size="26" fill="#5b5b5b" style="font-family:'Liberation Sans'">Source: Haver Analytics, Pinnacle Data, and Citi Research – U.S. Equity Strategy</text>
</svg></body></html>
